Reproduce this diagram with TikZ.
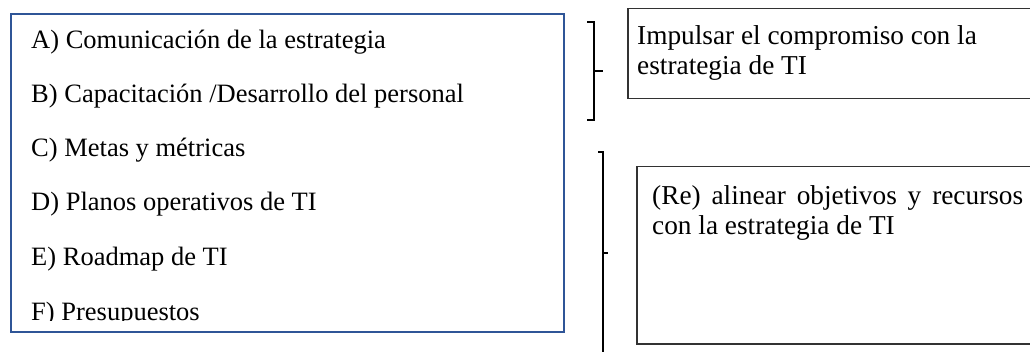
\documentclass[tikz,border=0pt]{standalone}
\usepackage{fontspec}
\setmainfont{Liberation Serif}
\definecolor{boxblue}{RGB}{47,85,151}
\definecolor{boxgrey}{RGB}{50,50,50}
\tikzset{
  txt/.style={anchor=base west, inner sep=0pt, font=\fontsize{26.5}{34}\selectfont},
  rtxt/.style={anchor=base west, inner sep=0pt, font=\fontsize{27.3}{34}\selectfont},
  bluebox/.style={draw=boxblue, line width=2pt, anchor=north west, inner sep=0pt},
  greybox/.style={draw=boxgrey, line width=1.5pt, anchor=north west, inner sep=0pt},
  bracket/.style={draw=black, line width=1.3pt}
}
\begin{document}
\begin{tikzpicture}[x=1pt,y=-1pt]
\useasboundingbox (0,0) rectangle (1030,352);
\clip (0,0) rectangle (1030,352);
% left box
\node[bluebox, minimum width=553pt, minimum height=318pt] (lbox) at (10,13) {};
\node[txt] (a) at (31,49) {A) Comunicación de la estrategia};
\node[txt] (b) at (31,103) {B) Capacitación /Desarrollo del personal};
\node[txt] (c) at (31,157) {C) Metas y métricas};
\node[txt] (d) at (31,211) {D) Planos operativos de TI};
\node[txt] (e) at (31,266) {E) Roadmap de TI};
\begin{scope}
\clip (10,13) rectangle (563,321);
\node[txt] (f) at (31,320) {F) Presupuestos};
\end{scope}
% brackets
\coordinate (b1t) at (587,22);
\coordinate (b1b) at (587,120);
\coordinate (b1m) at (594,71);
\coordinate (b1k) at (603,71);
\draw[bracket] (b1t) -- (594,22) -- (594,120) -- (b1b);
\draw[bracket] (b1m) -- (b1k);
\coordinate (b2t) at (598,152);
\coordinate (b2b) at (603,360);
\coordinate (b2m) at (603,253);
\coordinate (b2k) at (608,253);
\draw[bracket] (b2t) -- (603,152) -- (b2b);
\draw[bracket] (b2m) -- (b2k);
% right boxes
\node[greybox, minimum width=420pt, minimum height=90pt] (r1) at (627,8) {};
\node[rtxt] (r1a) at (637,45) {Impulsar el compromiso con la};
\node[rtxt] (r1b) at (637,75) {estrategia de TI};
\node[greybox, minimum width=420pt, minimum height=177pt] (r2) at (636,166) {};
\node[rtxt] (r2a) at (652,205) {\makebox[371pt][s]{(Re) alinear objetivos y recursos}};
\node[rtxt] (r2b) at (652,235) {con la estrategia de TI};
\end{tikzpicture}
\end{document}
